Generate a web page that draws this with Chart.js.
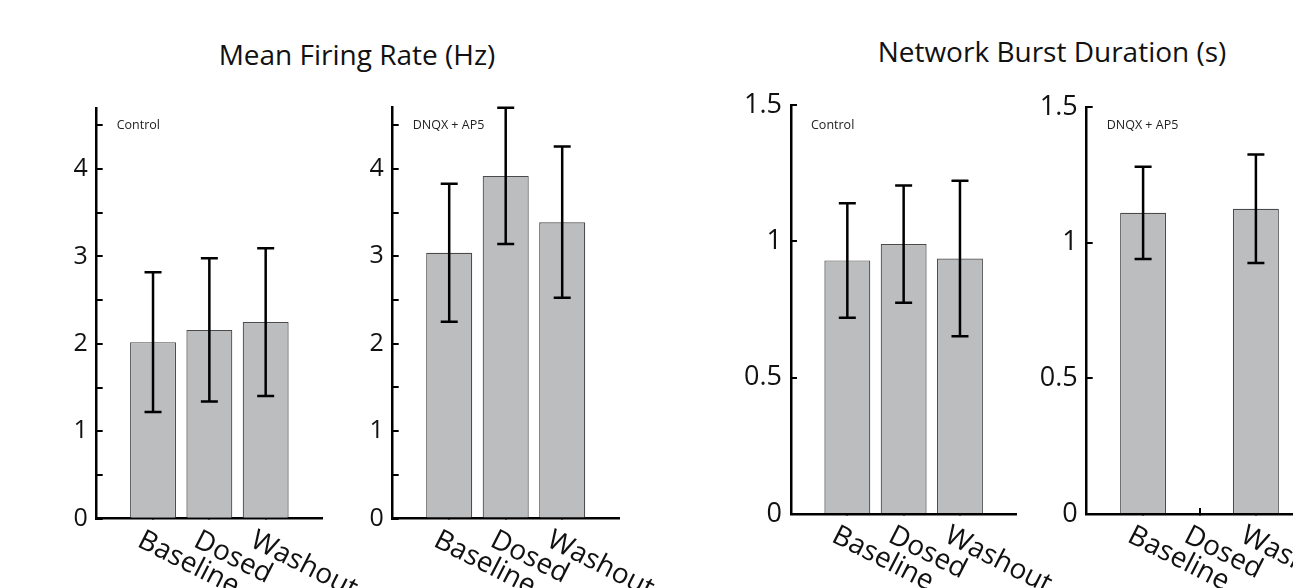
<!DOCTYPE html>
<html>
<head>
<meta charset="utf-8">
<script src="https://cdn.jsdelivr.net/npm/chart.js@4"></script>
<style>
html,body{margin:0;padding:0;background:#fff;overflow:hidden;width:1293px;height:588px;}
#wrap{position:relative;width:1293px;height:588px;overflow:hidden;}
#wrap canvas{position:absolute;left:0;top:0;}
.title{position:absolute;font-family:'Open Sans',sans-serif;font-size:28px;line-height:28px;color:#111;white-space:nowrap;transform:translateX(-50%);}
</style>
</head>
<body>
<div id="wrap">
  <div class="title" style="left:357px;top:40px;">Mean Firing Rate (Hz)</div>
  <div class="title" style="left:1052px;top:36.5px;">Network Burst Duration (s)</div>
  <canvas id="c1" width="1320" height="588"></canvas>
  <canvas id="c2" width="1320" height="588"></canvas>
  <canvas id="c3" width="1320" height="588"></canvas>
  <canvas id="c4" width="1320" height="588"></canvas>
</div>
<script>
// ---- data ----
const categories = ['Baseline', 'Dosed', 'Washout'];

const mfrControl    = [2.02, 2.16, 2.25];
const mfrControlErr = [0.80, 0.82, 0.845];
const mfrDrug       = [3.04, 3.92, 3.39];
const mfrDrugErr    = [0.79, 0.78, 0.865];

const nbdControl    = [0.93, 0.99, 0.937];
const nbdControlErr = [0.21, 0.215, 0.285];
const nbdDrug       = [1.11, null, 1.125];
const nbdDrugErr    = [0.17, null, 0.20];

const mfrTicks      = [0, 0.5, 1, 1.5, 2, 2.5, 3, 3.5, 4, 4.5];
const mfrTickLabels = ['0', '', '1', '', '2', '', '3', '', '4', ''];
const mfrMax = 4.7;
const nbdTicks      = [0, 0.5, 1, 1.5];
const nbdTickLabels = ['0', '0.5', '1', '1.5'];
const nbdMax = 1.5;

const groupLabels = ['Control', 'DNQX + AP5'];

// ---- drawing ----
const CW = 1320, CH = 588;
const FONT = "'Open Sans', sans-serif";

const extrasPlugin = {
  id: 'extras',
  afterDatasetsDraw(chart, args, opts) {
    const ctx = chart.ctx;
    const meta = chart.getDatasetMeta(0);
    const vals = chart.data.datasets[0].data;
    const errs = opts.errors;
    const ys = chart.scales.y;
    ctx.save();
    ctx.strokeStyle = '#000';
    ctx.lineWidth = 2.5;
    ctx.lineCap = 'butt';
    vals.forEach((v, i) => {
      if (v == null || errs[i] == null) return;
      const px = meta.data[i].x;
      const top = ys.getPixelForValue(v + errs[i]);
      const bot = ys.getPixelForValue(v - errs[i]);
      const hw = 8.5;
      ctx.beginPath();
      ctx.moveTo(px, top); ctx.lineTo(px, bot);
      ctx.moveTo(px - hw, top); ctx.lineTo(px + hw, top);
      ctx.moveTo(px - hw, bot); ctx.lineTo(px + hw, bot);
      ctx.stroke();
    });
    ctx.restore();
  },
  afterDraw(chart, args, opts) {
    const ctx = chart.ctx;
    const xs = chart.scales.x;
    const area = chart.chartArea;
    ctx.save();
    // rotated category labels
    ctx.fillStyle = '#111';
    ctx.font = '28px ' + FONT;
    ctx.textAlign = 'left';
    ctx.textBaseline = 'alphabetic';
    chart.data.labels.forEach((lab, i) => {
      if (!lab) return;
      const px = xs.getPixelForValue(i);
      ctx.save();
      ctx.translate(px - 17, xs.top + 27);
      ctx.rotate(27 * Math.PI / 180);
      ctx.fillText(lab, 0, 0);
      ctx.restore();
    });
    // group annotation
    ctx.font = '12.5px ' + FONT;
    ctx.fillStyle = '#222';
    ctx.fillText(opts.group, area.left + 20, 129);
    ctx.restore();
  }
};

function makePanel(id, vals, errs, ticks, tickLabels, max, rect, group, tickFont) {
  const labels = [''].concat(categories, ['']);
  const data = [null].concat(vals, [null]);
  const errors = [null].concat(errs, [null]);
  const yW = 60;
  new Chart(document.getElementById(id), {
    type: 'bar',
    data: {
      labels: labels,
      datasets: [{
        data: data,
        backgroundColor: '#bcbdbf',
        borderColor: '#4a4a4a',
        borderWidth: 1.2,
        categoryPercentage: 1,
        barPercentage: 0.815
      }]
    },
    plugins: [extrasPlugin],
    options: {
      responsive: false,
      animation: false,
      devicePixelRatio: 1,
      layout: {
        padding: {
          left: rect.left - yW,
          right: CW - rect.right,
          top: rect.top,
          bottom: CH - rect.bottom
        }
      },
      plugins: {
        legend: { display: false },
        tooltip: { enabled: false },
        title: { display: false },
        extras: { errors: errors, group: group }
      },
      scales: {
        x: {
          type: 'category',
          offset: false,
          afterFit(s) { s.height = 0; },
          ticks: { display: false },
          grid: {
            display: true,
            offset: false,
            drawOnChartArea: false,
            drawTicks: true,
            tickLength: -6,
            lineWidth: 2,
            color: (c) => (c.index === 0 || c.index === labels.length - 1) ? 'rgba(0,0,0,0)' : '#000'
          },
          border: { display: true, color: '#000', width: 2.5 }
        },
        y: {
          type: 'linear',
          min: 0,
          max: max,
          afterFit(s) { s.width = yW; },
          afterBuildTicks(s) { s.ticks = ticks.map(v => ({ value: v })); },
          ticks: {
            padding: 15,
            color: '#111',
            font: { family: FONT, size: tickFont },
            callback: (v, i) => tickLabels[i]
          },
          grid: {
            display: true,
            drawOnChartArea: false,
            drawTicks: true,
            tickLength: -6,
            lineWidth: 2,
            color: '#000'
          },
          border: { display: true, color: '#000', width: 2.5 }
        }
      }
    }
  });
}

makePanel('c1', mfrControl, mfrControlErr, mfrTicks, mfrTickLabels, mfrMax,
  { left: 96.7, right: 322, top: 107.9, bottom: 518.7 }, groupLabels[0], 25);
makePanel('c2', mfrDrug, mfrDrugErr, mfrTicks, mfrTickLabels, mfrMax,
  { left: 392.7, right: 618.7, top: 107.7, bottom: 518.5 }, groupLabels[1], 25);
makePanel('c3', nbdControl, nbdControlErr, nbdTicks, nbdTickLabels, nbdMax,
  { left: 791, right: 1016.3, top: 105, bottom: 514 }, groupLabels[0], 27);
makePanel('c4', nbdDrug, nbdDrugErr, nbdTicks, nbdTickLabels, nbdMax,
  { left: 1086.7, right: 1312.3, top: 107, bottom: 514 }, groupLabels[1], 27);
</script>
</body>
</html>
